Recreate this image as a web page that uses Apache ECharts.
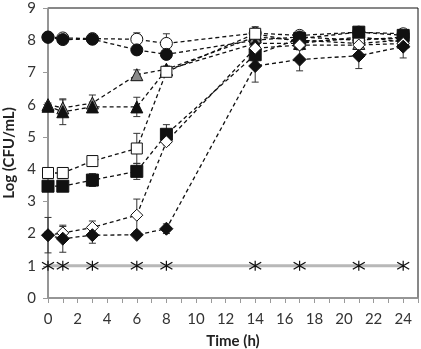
<!DOCTYPE html>
<html>
<head>
<meta charset="utf-8">
<script src="https://cdn.jsdelivr.net/npm/echarts@6/dist/echarts.min.js"></script>
<style>
  html, body { margin: 0; padding: 0; background: #fff; }
  #chart { width: 421px; height: 349px; }
</style>
</head>
<body>
<div id="chart"></div>
<script>
// Sampling times (h)
const times = [0, 1, 3, 6, 8, 14, 17, 21, 24];

// Mean log counts per treatment
const filledCircle   = [8.09, 8.02, 8.03, 7.70, 7.56, 8.00, 8.10, 8.00, 8.10];
const openCircle     = [8.10, 8.07, 8.05, 8.03, 7.90, 8.22, 8.15, 8.25, 8.20];
const openTriangle   = [6.00, 5.90, 6.05, 6.93, 7.10, 8.10, 8.00, 7.90, 8.00];
const filledTriangle = [5.95, 5.78, 5.93, 5.93, 7.08, 7.90, 7.90, 8.10, 7.95];
const openSquare     = [3.88, 3.88, 4.25, 4.64, 7.02, 8.20, 7.95, 8.05, 8.05];
const filledSquare   = [3.47, 3.47, 3.66, 3.93, 5.08, 7.55, 8.05, 8.25, 8.15];
const openDiamond    = [1.95, 2.02, 2.19, 2.57, 4.85, 7.75, 7.85, 7.85, 7.90];
const filledDiamond  = [1.95, 1.84, 1.95, 1.96, 2.15, 7.20, 7.40, 7.52, 7.80];
const detectionLimit = [1, 1, 1, 1, 1, 1, 1, 1, 1];

// Standard deviations
const errFilledCircle   = [0.05, 0.10, 0.05, 0.10, 0.10, 0.15, 0.15, 0.10, 0.10];
const errOpenCircle     = [0.05, 0.10, 0.05, 0.20, 0.30, 0.20, 0.10, 0.10, 0.10];
const errOpenTriangle   = [0.05, 0.25, 0.25, 0.15, 0.10, 0.15, 0.10, 0.15, 0.10];
const errFilledTriangle = [0.05, 0.40, 0.15, 0.30, 0.10, 0.20, 0.10, 0.10, 0.15];
const errOpenSquare     = [0.10, 0.10, 0.15, 0.47, 0.10, 0.15, 0.10, 0.10, 0.10];
const errFilledSquare   = [0.15, 0.10, 0.20, 0.25, 0.30, 0.20, 0.15, 0.10, 0.15];
const errOpenDiamond    = [0.10, 0.20, 0.20, 0.50, 0.10, 0.20, 0.15, 0.10, 0.10];
const errFilledDiamond  = [0.55, 0.42, 0.25, 0.05, 0.15, 0.50, 0.35, 0.40, 0.35];

const yTicks = [0, 1, 2, 3, 4, 5, 6, 7, 8, 9];
const xLabelStep = 2;

const FONT = 'Lato, "Noto Sans", sans-serif';
const ASTERISK = 'path://M6,0 L6,10 M0,1.5 L12,8.5 M0,8.5 L12,1.5';

function pairs(vals) {
  return times.map((t, i) => [t, vals[i]]);
}

function lineSeries(name, vals, symbol, fill, size) {
  return {
    name, type: 'line', data: pairs(vals),
    symbol, symbolSize: size,
    z: 3,
    lineStyle: { color: '#111', width: 1.3, type: [4, 3] },
    itemStyle: { color: fill, borderColor: '#111', borderWidth: 1 },
    emphasis: { disabled: true },
    animation: false
  };
}

function errorSeries(vals, errs) {
  return {
    type: 'custom', z: 2, animation: false, silent: true,
    data: times.map((t, i) => [t, vals[i] - errs[i], vals[i] + errs[i]]),
    encode: { x: 0, y: [1, 2] },
    renderItem(params, api) {
      const x = api.value(0);
      const lo = api.coord([x, api.value(1)]);
      const hi = api.coord([x, api.value(2)]);
      const w = 3.5;
      const st = { stroke: '#333', lineWidth: 1 };
      return {
        type: 'group',
        children: [
          { type: 'line', shape: { x1: lo[0], y1: lo[1], x2: hi[0], y2: hi[1] }, style: st },
          { type: 'line', shape: { x1: lo[0] - w, y1: lo[1], x2: lo[0] + w, y2: lo[1] }, style: st },
          { type: 'line', shape: { x1: hi[0] - w, y1: hi[1], x2: hi[0] + w, y2: hi[1] }, style: st }
        ]
      };
    }
  };
}

const chart = echarts.init(document.getElementById('chart'), null, { renderer: 'canvas' });

chart.setOption({
  animation: false,
  backgroundColor: '#fff',
  grid: {
    left: 48, right: 3, top: 8, bottom: 51,
    outerBoundsMode: 'none',
    show: true, borderColor: '#111', borderWidth: 1, backgroundColor: 'transparent'
  },
  xAxis: {
    type: 'value', min: 0, max: 25, interval: 1,
    name: 'Time (h)', nameLocation: 'middle', nameGap: 36,
    nameTextStyle: { fontFamily: FONT, fontSize: 15, fontWeight: 'bold', color: '#222' },
    axisLine: { show: true, onZero: false, lineStyle: { color: '#9a9a9a', width: 1.5 } },
    axisTick: { show: true, length: 5, lineStyle: { color: '#9a9a9a' } },
    axisLabel: {
      fontFamily: FONT, fontSize: 15, color: '#333', margin: 14,
      formatter: v => (v % xLabelStep === 0 && v <= 24 ? String(v) : '')
    },
    splitLine: { show: false }
  },
  yAxis: {
    type: 'value', min: yTicks[0], max: yTicks[yTicks.length - 1], interval: 1,
    name: 'Log (CFU/mL)', nameLocation: 'middle', nameGap: 29,
    nameTextStyle: { fontFamily: FONT, fontSize: 15, fontWeight: 'bold', color: '#222' },
    axisLine: { show: true, lineStyle: { color: '#9a9a9a', width: 1.5 } },
    axisTick: { show: true, length: 5, lineStyle: { color: '#9a9a9a' } },
    axisLabel: { fontFamily: FONT, fontSize: 15, color: '#333', margin: 12 },
    splitLine: { show: false }
  },
  series: [
    errorSeries(filledCircle, errFilledCircle),
    errorSeries(openCircle, errOpenCircle),
    errorSeries(openTriangle, errOpenTriangle),
    errorSeries(filledTriangle, errFilledTriangle),
    errorSeries(openSquare, errOpenSquare),
    errorSeries(filledSquare, errFilledSquare),
    errorSeries(openDiamond, errOpenDiamond),
    errorSeries(filledDiamond, errFilledDiamond),
    {
      name: 'limit', type: 'line', data: pairs(detectionLimit),
      symbol: ASTERISK, symbolSize: [12, 10], z: 3,
      lineStyle: { color: '#b8b8b8', width: 3 },
      itemStyle: { color: 'none', borderColor: '#111', borderWidth: 1.1 },
      animation: false
    },
    lineSeries('openCircle', openCircle, 'circle', '#fff', 12),
    lineSeries('filledCircle', filledCircle, 'circle', '#111', 12),
    lineSeries('openTriangle', openTriangle, 'triangle', '#8a8a8a', 12),
    lineSeries('filledTriangle', filledTriangle, 'triangle', '#111', 12),
    lineSeries('openSquare', openSquare, 'rect', '#fff', 11),
    lineSeries('filledSquare', filledSquare, 'rect', '#111', 12),
    lineSeries('openDiamond', openDiamond, 'diamond', '#fff', 12),
    lineSeries('filledDiamond', filledDiamond, 'diamond', '#111', 13)
  ]
});
</script>
</body>
</html>
